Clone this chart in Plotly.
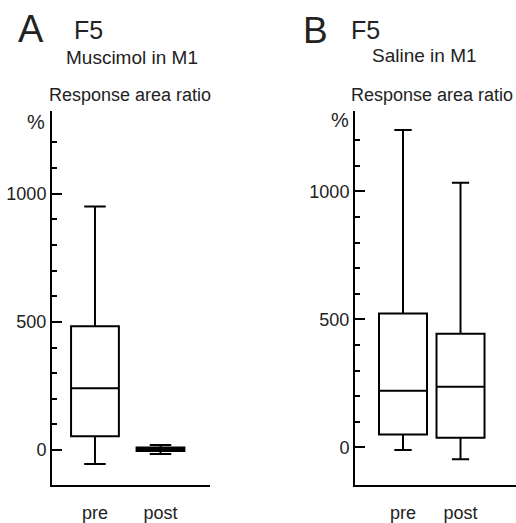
import plotly.graph_objects as go

# ---- data ----
categories = ["pre", "post"]

# Panel A: Muscimol in M1 (response area ratio, %)
a_lower = [-54, -15]
a_q1 = [54, -3]
a_median = [241, 3]
a_q3 = [483, 10]
a_upper = [950, 20]

# Panel B: Saline in M1
b_lower = [-10, -46]
b_q1 = [50, 38]
b_median = [221, 237]
b_q3 = [523, 444]
b_upper = [1240, 1034]

major_ticks = [0, 500, 1000]
minor_ticks = [100, 200, 300, 400, 600, 700, 800, 900, 1100, 1200]

W, H = 516, 523
FONT = "Liberation Sans, Arial, sans-serif"
TXT = "#222222"

fig = go.Figure()

def add_boxes(lower, q1, med, q3, upper, xaxis, yaxis, width, ww):
    for i, c in enumerate(categories):
        fig.add_trace(go.Box(
            x=[c], q1=[q1[i]], median=[med[i]], q3=[q3[i]],
            lowerfence=[lower[i]], upperfence=[upper[i]],
            xaxis=xaxis, yaxis=yaxis, width=width, whiskerwidth=ww,
            fillcolor="white", line=dict(color="black", width=2),
            boxpoints=False, showlegend=False, hoverinfo="skip",
        ))

add_boxes(a_lower, a_q1, a_median, a_q3, a_upper, "x", "y", 0.73, 0.45)
add_boxes(b_lower, b_q1, b_median, b_q3, b_upper, "x2", "y2", 0.835, 0.36)

ydom = [1 - 494 / H, 1 - 113 / H]

def yax(rng, domain_anchor):
    return dict(
        domain=ydom, range=rng, anchor=domain_anchor,
        tickmode="array", tickvals=major_ticks, ticktext=[str(v) for v in major_ticks],
        ticks="inside", ticklen=10, tickwidth=2, tickcolor="black",
        minor=dict(tickmode="array", tickvals=minor_ticks, ticks="inside",
                   ticklen=5, tickwidth=2, tickcolor="black"),
        showline=True, linecolor="black", linewidth=2,
        showgrid=False, zeroline=False,
        tickfont=dict(family=FONT, size=18, color=TXT),
        fixedrange=True,
    )

def xax(dom, rng, anchor):
    return dict(
        domain=dom, range=rng, anchor=anchor, type="category",
        showline=True, linecolor="black", linewidth=2,
        ticks="", showgrid=False, zeroline=False,
        tickfont=dict(family=FONT, size=18, color=TXT),
        ticklabelstandoff=10,
        fixedrange=True,
    )

fig.update_layout(
    width=W, height=H,
    margin=dict(l=0, r=0, t=0, b=0),
    paper_bgcolor="white", plot_bgcolor="white",
    boxmode="overlay", showlegend=False,
    xaxis=xax([52 / W, 210 / W], [-0.656, 1.756], "y"),
    yaxis=yax([-138, 1322], "x"),
    xaxis2=xax([355 / W, 1.0], [-0.835, 1.965], "y2"),
    yaxis2=yax([-149, 1314], "x2"),
)

def txt(s, x, y, size, xanchor="center"):
    fig.add_annotation(text=s, x=x / W, y=1 - y / H, xref="paper", yref="paper",
                       xanchor=xanchor, yanchor="middle", showarrow=False,
                       font=dict(family=FONT, size=size, color=TXT))

txt("A", 31, 29, 38)
txt("F5", 88, 31, 25)
txt("Muscimol in M1", 132, 58, 19)
txt("Response area ratio", 130, 97, 18)
txt("%", 36, 124, 20)

txt("B", 315, 31, 37)
txt("F5", 365, 31, 25)
txt("Saline in M1", 424, 56, 19)
txt("Response area ratio", 349, 97, 18, xanchor="left")
txt("%", 340, 122, 20)

fig.write_html("out.html")
